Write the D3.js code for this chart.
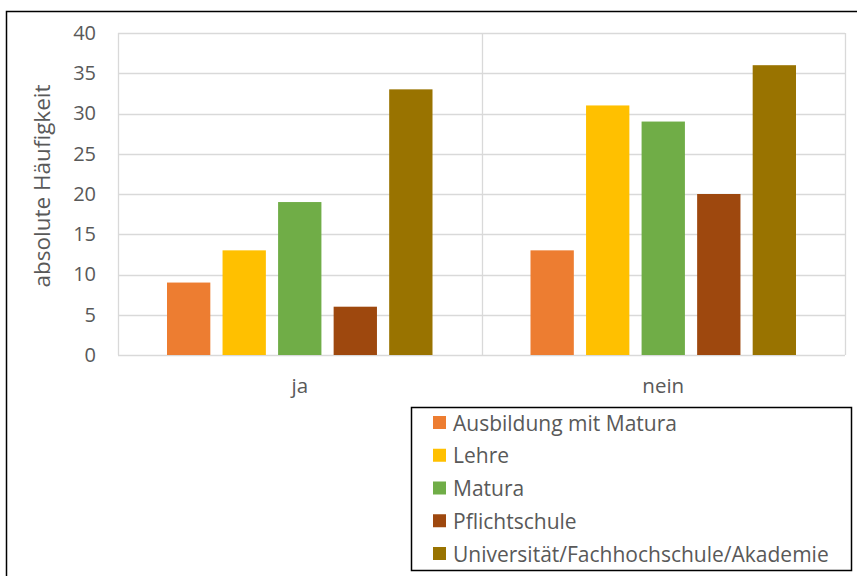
<!DOCTYPE html>
<html>
<head>
<meta charset="utf-8">
<script src="https://cdn.jsdelivr.net/npm/d3@7"></script>
<style>
  html, body { margin: 0; padding: 0; background: #fff; }
  svg { display: block; font-family: "Open Sans", Lato, sans-serif; }
</style>
</head>
<body>
<svg id="chart" width="857" height="576"></svg>
<script>
// Answer categories on the x axis
const categories = ["ja", "nein"];
// Education levels (series)
const series = [
  "Ausbildung mit Matura",
  "Lehre",
  "Matura",
  "Pflichtschule",
  "Universität/Fachhochschule/Akademie"
];
const seriesColors = ["#ED7D31", "#FFC000", "#70AD47", "#9E480E", "#997300"];
// Counts per series, in category order [ja, nein]
const ausbildungMitMatura = [9, 13];
const lehre = [13, 31];
const matura = [19, 29];
const pflichtschule = [6, 20];
const universitaet = [33, 36];
const yTicks = [0, 5, 10, 15, 20, 25, 30, 35, 40];

const values = [ausbildungMitMatura, lehre, matura, pflichtschule, universitaet];

const svg = d3.select("#chart");
const font = "'Open Sans', Lato, sans-serif";
const textColor = "#595959";
const gridColor = "#d9d9d9";

// Outer frame (top and left edges)
svg.append("path")
  .attr("d", "M6.5,576 V11.5 H857")
  .attr("fill", "none")
  .attr("stroke", "#000")
  .attr("stroke-width", 1.5);

const plot = { left: 118, right: 845, top: 33, bottom: 355 };

const y = d3.scaleLinear().domain([0, 40]).range([plot.bottom, plot.top]);
const x0 = d3.scaleBand().domain(categories).range([plot.left, plot.right]);
const x1 = d3.scaleBand().domain(series)
  .range([49, x0.bandwidth() - 49])
  .paddingInner(0.22);

// Horizontal gridlines
svg.append("g").selectAll("line").data(yTicks).join("line")
  .attr("x1", plot.left).attr("x2", plot.right)
  .attr("y1", d => Math.round(y(d)) + 0.5).attr("y2", d => Math.round(y(d)) + 0.5)
  .attr("stroke", gridColor).attr("stroke-width", 1.3);

// Vertical category separators
const seps = [plot.left, ...categories.map(c => x0(c) + x0.bandwidth())];
svg.append("g").selectAll("line").data(seps).join("line")
  .attr("x1", d => Math.round(d) + 0.5).attr("x2", d => Math.round(d) + 0.5)
  .attr("y1", plot.top).attr("y2", plot.bottom)
  .attr("stroke", gridColor).attr("stroke-width", 1.3);

// Y axis tick labels
const yAxis = d3.axisLeft(y).tickValues(yTicks).tickSize(0).tickPadding(0);
const gy = svg.append("g").attr("transform", `translate(96,0)`).call(yAxis);
gy.select(".domain").remove();
gy.selectAll("text")
  .attr("fill", textColor)
  .style("font-size", "20px")
  .style("font-family", font);

// Bars
const groups = svg.append("g").selectAll("g").data(categories).join("g")
  .attr("transform", c => `translate(${x0(c)},0)`);
groups.selectAll("rect")
  .data((c, ci) => series.map((s, si) => ({ s, si, v: values[si][ci] })))
  .join("rect")
  .attr("x", d => x1(d.s))
  .attr("width", x1.bandwidth())
  .attr("y", d => y(d.v))
  .attr("height", d => y(0) - y(d.v))
  .attr("fill", d => seriesColors[d.si]);

// X axis category labels
const xAxis = d3.axisBottom(x0).tickSize(0).tickPadding(0);
const gx = svg.append("g").attr("transform", `translate(0,${plot.bottom + 23})`).call(xAxis);
gx.select(".domain").remove();
gx.selectAll("text")
  .attr("fill", textColor)
  .attr("dy", "0.71em")
  .style("font-size", "20.5px")
  .style("font-family", font);

// Y axis title
svg.append("text")
  .attr("transform", `translate(50,${(plot.top + plot.bottom) / 2 - 8}) rotate(-90)`)
  .attr("text-anchor", "middle")
  .attr("fill", textColor)
  .style("font-size", "22.5px")
  .text("absolute Häufigkeit");

// Legend
const legend = { x: 411, y: 407, w: 440, h: 163 };
svg.append("rect")
  .attr("x", legend.x + 0.5).attr("y", legend.y + 0.5)
  .attr("width", legend.w).attr("height", legend.h)
  .attr("fill", "#fff").attr("stroke", "#000").attr("stroke-width", 1.5);

const ly = d3.scalePoint().domain(series).range([423, 554]);
const items = svg.append("g").selectAll("g").data(series).join("g")
  .attr("transform", s => `translate(433,${ly(s)})`);
items.append("rect")
  .attr("x", 0).attr("y", -7).attr("width", 13).attr("height", 13)
  .attr("fill", (s, i) => seriesColors[i]);
items.append("text")
  .attr("x", 20).attr("dy", "0.36em")
  .attr("fill", textColor)
  .style("font-size", "21px")
  .text(s => s);
</script>
</body>
</html>
